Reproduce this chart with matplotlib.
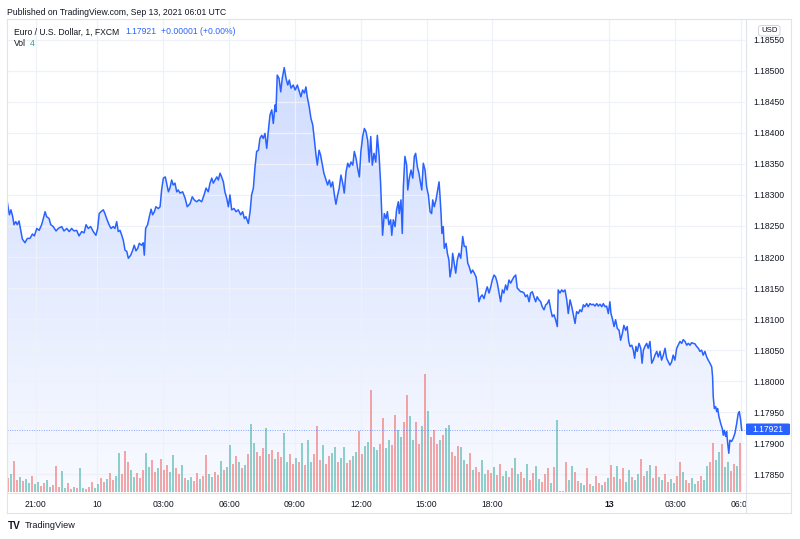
import numpy as np
import matplotlib.pyplot as plt
from matplotlib.patches import Rectangle, FancyBboxPatch
from matplotlib.lines import Line2D

plt.rcParams['font.family'] = ['Liberation Sans', 'DejaVu Sans']

# EUR/USD 1-min line, x = trading hours since chart start (bar-index time, weekend removed)
hours = [
    0.01, 0.11, 0.18, 0.26, 0.32, 0.40, 0.47, 0.55, 0.63, 0.70, 0.82, 0.93, 1.05, 1.16, 1.25,
    1.36, 1.47, 1.58, 1.66, 1.74, 1.81, 1.92, 2.00, 2.11, 2.24, 2.34, 2.50, 2.60, 2.73, 2.84,
    2.95, 3.06, 3.18, 3.29, 3.41, 3.52, 3.61, 3.71, 3.82, 3.94, 4.06, 4.14, 4.21, 4.29, 4.40,
    4.47, 4.55, 4.66, 4.75, 4.85, 4.93, 5.01, 5.08, 5.16, 5.24, 5.31, 5.39, 5.47, 5.54, 5.65,
    5.74, 5.81, 5.89, 5.97, 6.04, 6.15, 6.22, 6.27, 6.33, 6.42, 6.50, 6.58, 6.65, 6.73, 6.80,
    6.91, 6.99, 7.06, 7.14, 7.23, 7.29, 7.37, 7.44, 7.52, 7.59, 7.67, 7.75, 7.82, 7.90, 8.02,
    8.13, 8.23, 8.36, 8.46, 8.55, 8.66, 8.77, 8.89, 9.00, 9.09, 9.19, 9.27, 9.35, 9.42, 9.50,
    9.58, 9.65, 9.73, 9.80, 9.88, 9.95, 10.03, 10.11, 10.18, 10.26, 10.37, 10.46, 10.56, 10.67,
    10.76, 10.84, 10.91, 11.02, 11.10, 11.17, 11.25, 11.32, 11.40, 11.48, 11.55, 11.63, 11.70,
    11.78, 11.86, 11.93, 12.01, 12.09, 12.16, 12.24, 12.28, 12.34, 12.42, 12.50, 12.57, 12.66,
    12.74, 12.82, 12.89, 12.97, 13.07, 13.16, 13.26, 13.35, 13.42, 13.50, 13.58, 13.65, 13.71,
    13.80, 13.88, 13.96, 14.03, 14.11, 14.17, 14.25, 14.32, 14.40, 14.47, 14.57, 14.64, 14.72,
    14.79, 14.87, 14.95, 15.02, 15.10, 15.17, 15.25, 15.33, 15.40, 15.48, 15.56, 15.63, 15.71,
    15.79, 15.86, 15.94, 16.01, 16.09, 16.16, 16.24, 16.32, 16.39, 16.47, 16.54, 16.61, 16.68,
    16.76, 16.84, 16.91, 16.99, 17.06, 17.11, 17.15, 17.23, 17.31, 17.37, 17.44, 17.52, 17.57,
    17.64, 17.72, 17.79, 17.87, 17.91, 17.99, 18.05, 18.10, 18.17, 18.25, 18.30, 18.37, 18.45,
    18.53, 18.60, 18.66, 18.74, 18.81, 18.86, 18.94, 19.01, 19.09, 19.16, 19.24, 19.32, 19.39,
    19.44, 19.51, 19.59, 19.67, 19.73, 19.77, 19.82, 19.86, 19.92, 19.97, 20.05, 20.11, 20.18,
    20.23, 20.31, 20.35, 20.41, 20.49, 20.56, 20.64, 20.72, 20.81, 20.88, 20.96, 21.04, 21.11,
    21.19, 21.26, 21.34, 21.42, 21.47, 21.55, 21.63, 21.70, 21.78, 21.86, 21.93, 22.01, 22.09,
    22.16, 22.24, 22.31, 22.39, 22.47, 22.54, 22.62, 22.69, 22.77, 22.84, 22.92, 23.00, 23.07,
    23.15, 23.23, 23.30, 23.38, 23.46, 23.53, 23.61, 23.68, 23.76, 23.84, 23.91, 23.99, 24.06,
    24.14, 24.21, 24.29, 24.37, 24.44, 24.52, 24.60, 24.67, 24.75, 24.83, 24.90, 24.98, 25.05,
    25.13, 25.17, 25.25, 25.33, 25.40, 25.48, 25.56, 25.63, 25.71, 25.79, 25.86, 25.94, 26.01,
    26.09, 26.16, 26.24, 26.32, 26.39, 26.47, 26.54, 26.62, 26.70, 26.77, 26.85, 26.93, 27.00,
    27.08, 27.16, 27.23, 27.31, 27.38, 27.46, 27.53, 27.58, 27.64, 27.72, 27.79, 27.87, 27.95,
    28.02, 28.10, 28.17, 28.25, 28.32, 28.39, 28.45, 28.53, 28.60, 28.66, 28.72, 28.78, 28.86,
    28.94, 29.00, 29.06, 29.13, 29.21, 29.28, 29.36, 29.44, 29.51, 29.59, 29.67, 29.74, 29.82,
    29.89, 29.97, 30.05, 30.12, 30.20, 30.27, 30.35, 30.42, 30.50, 30.58, 30.65, 30.73, 30.81,
    30.88, 30.96, 31.04, 31.11, 31.19, 31.26, 31.34, 31.42, 31.49, 31.57, 31.64, 31.72, 31.79,
    31.87, 31.95, 32.02, 32.10, 32.18, 32.22, 32.25, 32.30, 32.36, 32.41, 32.45, 32.51, 32.59,
    32.66, 32.71, 32.75, 32.82, 32.86, 32.91, 32.96, 33.01, 33.09, 33.16, 33.24, 33.32, 33.39,
    33.44, 33.50, 33.55,
]
price = [
    1.18289, 1.18268, 1.18276, 1.18265, 1.18252, 1.18257, 1.18252, 1.18258, 1.18243, 1.18229,
    1.18223, 1.18230, 1.18230, 1.18237, 1.18234, 1.18246, 1.18243, 1.18252, 1.18262, 1.18273,
    1.18265, 1.18262, 1.18252, 1.18249, 1.18242, 1.18246, 1.18249, 1.18242, 1.18246, 1.18241,
    1.18246, 1.18242, 1.18243, 1.18234, 1.18241, 1.18239, 1.18252, 1.18246, 1.18249, 1.18241,
    1.18235, 1.18246, 1.18270, 1.18273, 1.18276, 1.18270, 1.18262, 1.18252, 1.18246, 1.18249,
    1.18246, 1.18257, 1.18241, 1.18243, 1.18235, 1.18227, 1.18211, 1.18209, 1.18198, 1.18203,
    1.18211, 1.18219, 1.18210, 1.18214, 1.18222, 1.18219, 1.18223, 1.18203, 1.18246, 1.18252,
    1.18265, 1.18277, 1.18268, 1.18273, 1.18281, 1.18278, 1.18281, 1.18308, 1.18327, 1.18329,
    1.18319, 1.18305, 1.18311, 1.18324, 1.18316, 1.18319, 1.18305, 1.18308, 1.18303, 1.18305,
    1.18295, 1.18281, 1.18286, 1.18297, 1.18292, 1.18289, 1.18292, 1.18289, 1.18300, 1.18311,
    1.18305, 1.18319, 1.18327, 1.18319, 1.18324, 1.18329, 1.18324, 1.18335, 1.18329, 1.18321,
    1.18305, 1.18295, 1.18281, 1.18300, 1.18276, 1.18278, 1.18273, 1.18276, 1.18268, 1.18273,
    1.18262, 1.18265, 1.18254, 1.18273, 1.18300, 1.18311, 1.18343, 1.18370, 1.18372, 1.18391,
    1.18396, 1.18391, 1.18399, 1.18375, 1.18402, 1.18429, 1.18437, 1.18415, 1.18445, 1.18434,
    1.18493, 1.18488, 1.18466, 1.18488, 1.18505, 1.18488, 1.18477, 1.18485, 1.18472, 1.18477,
    1.18469, 1.18477, 1.18466, 1.18458, 1.18469, 1.18464, 1.18474, 1.18458, 1.18442, 1.18423,
    1.18413, 1.18391, 1.18364, 1.18348, 1.18372, 1.18364, 1.18348, 1.18335, 1.18324, 1.18316,
    1.18324, 1.18313, 1.18321, 1.18300, 1.18285, 1.18300, 1.18311, 1.18332, 1.18319, 1.18303,
    1.18337, 1.18351, 1.18345, 1.18353, 1.18348, 1.18370, 1.18359, 1.18343, 1.18329, 1.18370,
    1.18394, 1.18407, 1.18402, 1.18388, 1.18353, 1.18394, 1.18348, 1.18367, 1.18353, 1.18396,
    1.18364, 1.18319, 1.18270, 1.18235, 1.18270, 1.18262, 1.18273, 1.18252, 1.18260, 1.18235,
    1.18260, 1.18249, 1.18276, 1.18289, 1.18270, 1.18292, 1.18238, 1.18313, 1.18362, 1.18348,
    1.18308, 1.18327, 1.18340, 1.18327, 1.18362, 1.18367, 1.18345, 1.18335, 1.18324, 1.18308,
    1.18351, 1.18340, 1.18313, 1.18300, 1.18273, 1.18270, 1.18292, 1.18281, 1.18292, 1.18308,
    1.18321, 1.18300, 1.18270, 1.18238, 1.18249, 1.18214, 1.18222, 1.18206, 1.18195, 1.18168,
    1.18184, 1.18206, 1.18192, 1.18174, 1.18195, 1.18206, 1.18198, 1.18233, 1.18217, 1.18217,
    1.18190, 1.18184, 1.18174, 1.18179, 1.18174, 1.18168, 1.18155, 1.18128, 1.18136, 1.18139,
    1.18133, 1.18144, 1.18152, 1.18142, 1.18152, 1.18163, 1.18171, 1.18168, 1.18158, 1.18142,
    1.18128, 1.18147, 1.18142, 1.18155, 1.18147, 1.18163, 1.18158, 1.18163, 1.18168, 1.18171,
    1.18150, 1.18147, 1.18144, 1.18144, 1.18142, 1.18136, 1.18139, 1.18128, 1.18142, 1.18144,
    1.18136, 1.18128, 1.18136, 1.18131, 1.18128, 1.18120, 1.18115, 1.18123, 1.18125, 1.18131,
    1.18115, 1.18104, 1.18107, 1.18099, 1.18088, 1.18147, 1.18142, 1.18147, 1.18144, 1.18147,
    1.18131, 1.18109, 1.18131, 1.18120, 1.18107, 1.18093, 1.18112, 1.18109, 1.18115, 1.18112,
    1.18123, 1.18120, 1.18125, 1.18120, 1.18125, 1.18123, 1.18124, 1.18121, 1.18125, 1.18121,
    1.18124, 1.18120, 1.18125, 1.18120, 1.18121, 1.18109, 1.18128, 1.18109, 1.18101, 1.18088,
    1.18099, 1.18085, 1.18082, 1.18066, 1.18077, 1.18090, 1.18082, 1.18088, 1.18064, 1.18056,
    1.18058, 1.18050, 1.18037, 1.18056, 1.18048, 1.18061, 1.18053, 1.18029, 1.18050, 1.18056,
    1.18061, 1.18053, 1.18064, 1.18029, 1.18034, 1.18042, 1.18048, 1.18039, 1.18048, 1.18034,
    1.18042, 1.18053, 1.18037, 1.18031, 1.18026, 1.18031, 1.18042, 1.18034, 1.18053, 1.18058,
    1.18064, 1.18061, 1.18067, 1.18064, 1.18058, 1.18061, 1.18058, 1.18062, 1.18061, 1.18060,
    1.18056, 1.18053, 1.18048, 1.18050, 1.18042, 1.18048, 1.18039, 1.18034, 1.18029, 1.18023,
    1.18007, 1.17975, 1.17956, 1.17959, 1.17951, 1.17956, 1.17943, 1.17932, 1.17924, 1.17913,
    1.17921, 1.17911, 1.17919, 1.17900, 1.17884, 1.17905, 1.17903, 1.17908, 1.17916, 1.17932,
    1.17948, 1.17951, 1.17938, 1.17921,
]

# tick volume, read as evenly spaced bins across the chart
vol = [
    14, 18, 31, 12, 15, 11, 13, 9, 16, 8,
    10, 6, 9, 12, 5, 7, 26, 5, 21, 4,
    9, 3, 5, 4, 24, 4, 3, 5, 10, 4,
    8, 14, 10, 13, 19, 12, 16, 39, 18, 41,
    30, 22, 15, 19, 14, 22, 39, 25, 32, 20,
    24, 33, 22, 27, 20, 37, 24, 18, 27, 14,
    12, 15, 11, 19, 13, 16, 37, 18, 15, 20,
    17, 31, 22, 25, 47, 28, 36, 30, 24, 27,
    38, 68, 49, 40, 36, 44, 64, 38, 42, 33,
    40, 35, 59, 30, 38, 28, 34, 30, 49, 27,
    52, 30, 38, 66, 32, 47, 28, 36, 39, 45,
    30, 34, 45, 29, 32, 36, 40, 61, 38, 46,
    50, 102, 45, 42, 48, 74, 44, 52, 47, 77,
    62, 55, 70, 97, 76, 52, 70, 48, 66, 118,
    81, 55, 62, 48, 52, 57, 64, 67, 40, 36,
    46, 45, 32, 28, 39, 22, 25, 20, 32, 18,
    22, 19, 25, 17, 28, 16, 21, 15, 24, 34,
    18, 20, 14, 28, 12, 19, 26, 13, 10, 18,
    24, 9, 25, 72, 1, 1, 30, 12, 26, 20,
    11, 9, 7, 24, 8, 6, 16, 9, 7, 10,
    14, 27, 15, 26, 13, 24, 10, 22, 15, 12,
    18, 33, 16, 21, 27, 14, 26, 15, 12, 18,
    10, 13, 9, 16, 30, 20, 12, 9, 14, 8,
    11, 16, 12, 26, 30, 49, 32, 40, 48, 25,
    30, 21, 28, 26, 49,
]
vol_dir = ("dudduduudu" "udduuddduu" "dduduudddu" "uddudduudd" "duuddduudd"
           "uddduuddud" "uuddudduud" "duduuddudu" "duuddduddu" "dduuddudud"
           "uudddudduu" "duudduuddu" "uduudduudd" "uudduuddud" "uddduduudd"
           "duuddudduu" "ddudduuddu" "uddudduudd" "duduudduud" "duudduddud"
           "uddudduudu" "udduudduud" "duuddudduu" "dduudduudu" "uddud")

tick_pos = [1.31, 4.11, 7.14, 10.14, 13.14, 16.18, 19.16, 22.16, 27.50, 30.52, 33.52]
tick_lab = ['21:00', '10', '03:00', '06:00', '09:00', '12:00', '15:00', '18:00', '13', '03:00', '06:00']
price_ticks = [1.17850, 1.17900, 1.17950, 1.18000, 1.18050, 1.18100, 1.18150, 1.18200,
               1.18250, 1.18300, 1.18350, 1.18400, 1.18450, 1.18500, 1.18550]
last_price = 1.17921

W, H = 800, 539
XMIN, XMAX = 0.0, 33.70
YMIN, YMAX = 1.178216, 1.185833
BLUE = '#2962ff'
TXT = '#131722'
EDGE = '#e0e3eb'


def fx(px):
    return px / W


def fy(py):
    return 1 - py / H


fig = plt.figure(figsize=(W / 100, H / 100), dpi=100)
rect = [fx(7), fy(492), (745 - 7) / W, (492 - 19) / H]
ax = fig.add_axes(rect, zorder=0)
ax_v = fig.add_axes(rect, zorder=1)
ax_l = fig.add_axes(rect, zorder=2)

# gradient area under the line
alpha = np.linspace(0.22, 0.03, 256)
grad = np.zeros((256, 1, 4))
grad[..., 0] = 41 / 255
grad[..., 1] = 98 / 255
grad[..., 2] = 1.0
grad[..., 3] = alpha[:, None]
im = ax.imshow(grad, extent=[hours[0], hours[-1], YMIN, max(price)],
               aspect='auto', origin='upper', zorder=1, interpolation='bilinear')
area = ax.fill_between(hours, price, YMIN, color='none', lw=0)
im.set_clip_path(area.get_paths()[0], transform=ax.transData)

ax.set_xlim(XMIN, XMAX)
ax.set_ylim(YMIN, YMAX)
ax.set_xticks(tick_pos)
ax.set_xticklabels(tick_lab)
ax.set_yticks(price_ticks)
ax.set_yticklabels(['%.5f' % p for p in price_ticks])
ax.yaxis.set_ticks_position('right')
ax.grid(True, color='#eef1f8', lw=0.9)
ax.tick_params(length=0, labelsize=6.2, colors=TXT)
ax.tick_params(axis='x', pad=6)
ax.tick_params(axis='y', pad=6)
ax.get_xticklabels()[8].set_fontweight('bold')
for s in ax.spines.values():
    s.set_visible(False)

# volume
up_c = (38 / 255, 166 / 255, 154 / 255, 0.5)
dn_c = (239 / 255, 83 / 255, 80 / 255, 0.5)
vol_x = np.linspace(0.05, 33.47, len(vol))
ax_v.bar(vol_x, vol, width=0.11, color=[up_c if d == 'u' else dn_c for d in vol_dir], lw=0)
ax_v.set_xlim(XMIN, XMAX)
ax_v.set_ylim(0, max(vol) / 0.25)
ax_v.axis('off')

# price line
ax_l.plot(hours, price, color=BLUE, lw=1.1, solid_joinstyle='round')
ax_l.axhline(last_price, color=BLUE, lw=0.7, ls=(0, (1, 1.5)), alpha=0.55)
ax_l.set_xlim(XMIN, XMAX)
ax_l.set_ylim(YMIN, YMAX)
ax_l.axis('off')

# hide the part of the last time label that runs under the price scale
fig.add_artist(Rectangle((fx(745.5), fy(512.5)), 45 / W, 20 / H, transform=fig.transFigure,
                         facecolor='white', edgecolor='none', zorder=5))

# frame
for (x0, y0, x1, y1) in [(7, 19, 791, 19), (7, 513, 791, 513), (7, 19, 7, 513),
                         (791, 19, 791, 513), (745.5, 19, 745.5, 513), (7, 492.5, 791, 492.5)]:
    fig.add_artist(Line2D([fx(x0), fx(x1)], [fy(y0), fy(y1)], transform=fig.transFigure,
                          color=EDGE, lw=0.8, zorder=6))

# last price label
fig.add_artist(FancyBboxPatch((fx(746), fy(435)), 44 / W, 11.5 / H, boxstyle='round,pad=0,rounding_size=0.002',
                              transform=fig.transFigure, facecolor=BLUE, edgecolor='none', zorder=7))
fig.text(fx(768), fy(429.3), '%.5f' % last_price, color='white', fontsize=6.2,
         ha='center', va='center', zorder=8)

# currency badge
fig.add_artist(FancyBboxPatch((fx(758.5), fy(36)), 21.5 / W, 10.5 / H, boxstyle='round,pad=0,rounding_size=0.004',
                              transform=fig.transFigure, facecolor='white', edgecolor='#d1d4dc', lw=0.7, zorder=7))
fig.text(fx(769.3), fy(30.8), 'USD', color=TXT, fontsize=5.6, ha='center', va='center', zorder=8)

# texts
fig.text(fx(7), fy(12.5), 'Published on TradingView.com, Sep 13, 2021 06:01 UTC',
         color=TXT, fontsize=6.2, va='center')
fig.text(fx(14), fy(32), 'Euro / U.S. Dollar, 1, FXCM', color=TXT, fontsize=6.2, va='center', zorder=8)
fig.text(fx(125), fy(32), '%.5f' % last_price, color=BLUE, fontsize=6.2, va='center', zorder=8)
fig.text(fx(161), fy(32), '+0.00001 (+0.00%)', color=BLUE, fontsize=6.2, va='center', zorder=8)
fig.text(fx(14), fy(44), 'Vol', color=TXT, fontsize=6.2, va='center', zorder=8)
fig.text(fx(30), fy(44), '4', color='#26a69a', fontsize=6.2, va='center', zorder=8)
fig.text(fx(7.5), fy(526), 'TV', color=TXT, fontsize=7.2, fontweight='bold', va='center')
fig.text(fx(25), fy(526), 'TradingView', color=TXT, fontsize=6.6, va='center')

fig.savefig('out.png', dpi=100)
